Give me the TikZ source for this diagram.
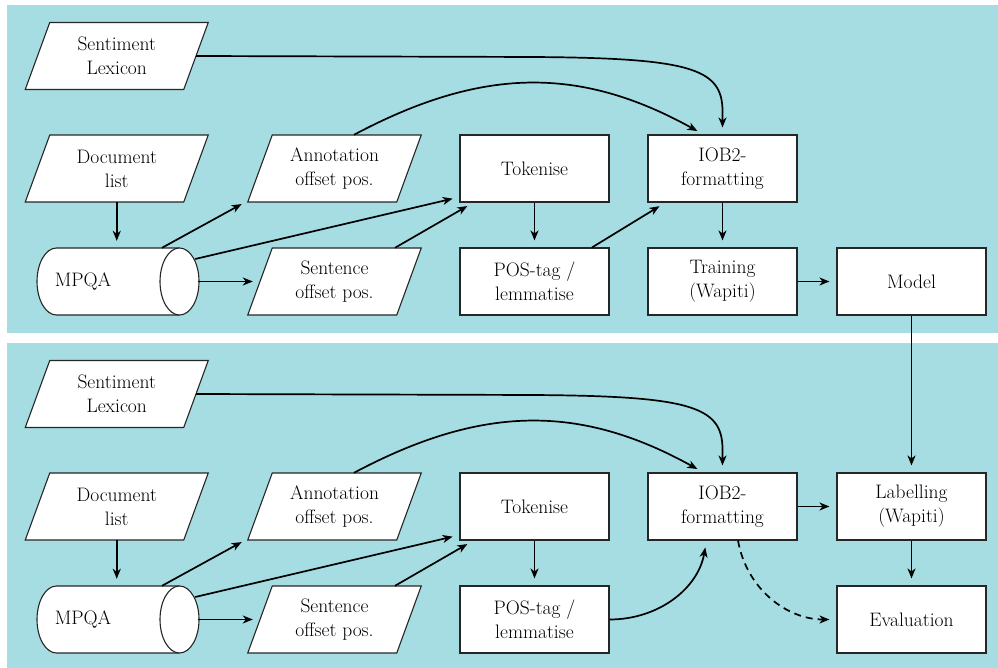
\documentclass[tikz,border=0pt]{standalone}
\usetikzlibrary{arrows.meta,calc}
\definecolor{panelbg}{RGB}{165,221,227}
\begin{document}
\begin{tikzpicture}[x=1pt,y=1pt,
  txt/.style={font=\fontsize{19.5}{24}\selectfont, align=center, inner sep=0pt},
  procbox/.style={txt, draw=black!85, line width=1.1pt, fill=white, minimum width=149pt, minimum height=67pt},
  paranode/.style={txt, minimum height=67pt},
  parashape/.style={draw=black!85, line width=1.1pt, fill=white},
  conn/.style={line width=1.7pt, -{Stealth[length=10pt,width=8pt,inset=3pt]}, shorten >=7pt},
  dashconn/.style={conn, dash pattern=on 7pt off 5pt},
]
\newcommand\parabox[5]{%
  \filldraw[parashape] (#2-#4-12.25,#3-33.5) -- (#2+#4-12.25,#3-33.5) -- (#2+#4+12.25,#3+33.5) -- (#2-#4+12.25,#3+33.5) -- cycle;
  \node[paranode, minimum width=2*#4] (#1) at (#2,#3) {#5};}
\newcommand\halfpanel[2]{%
  \parabox{lex#1}{116.75}{-56-#2}{79.25}{Sentiment\\Lexicon}
  \parabox{doc#1}{116.75}{-168.5-#2}{79.25}{Document\\list}
  \parabox{ann#1}{334.5}{-168.5-#2}{74.5}{Annotation\\offset pos.}
  \parabox{sen#1}{334.5}{-281.5-#2}{74.5}{Sentence\\offset pos.}
  \filldraw[parashape] (179.5,-248-#2) -- (56.5,-248-#2) arc[start angle=90,end angle=270,x radius=19.5,y radius=33.5] -- (179.5,-315-#2);
  \filldraw[parashape] (179.5,-281.5-#2) ellipse[x radius=19.5,y radius=33.5];
  \node[paranode, minimum width=161pt] (mpqa#1) at (117.5,-281.5-#2) {};
  \node[txt] (mpqalabel#1) at (83,-281.5-#2) {MPQA};
  \node[procbox] (tok#1) at (534.5,-168.5-#2) {Tokenise};
  \node[procbox] (pos#1) at (534.5,-281.5-#2) {POS-tag /\\lemmatise};
  \node[procbox] (iob#1) at (722.5,-168.5-#2) {IOB2-\\formatting};
  \draw[conn] (lex#1.east) -- ($(iob#1.north)+(-202.5,77.5)$) .. controls ($(iob#1.north)+(-32.5,77)$) and ($(iob#1.north)+(0,67)$) .. ($(iob#1.north)+(0,23)$) -- (iob#1.north);
  \draw[conn] ($(ann#1.north)+(19.5,0)$) to[out=28,in=151,looseness=1.05] ($(iob#1.north)+(-19,0)$);
  \draw[conn] (doc#1.south) -- (doc#1.south |- mpqa#1.north);
  \draw[conn] ($(mpqa#1.north)+(44.5,0)$) -- ($(ann#1.south west)+(-12,1.5)$);
  \draw[conn] ($(mpqa#1.east)+(-3,22.5)$) -- ($(tok#1.south west)+(0,5.5)$);
  \draw[conn] (mpqa#1.east) -- (sen#1.west);
  \draw[conn] ($(sen#1.north)+(60.5,0)$) -- ($(tok#1.south west)+(14,0)$);
  \draw[conn] (tok#1) -- (pos#1);
}
\useasboundingbox (0,0) rectangle (998,-668);
\fill[panelbg] (7,-5) rectangle (998,-333);
\fill[panelbg] (7,-343) rectangle (998,-668);
\halfpanel{a}{0}
\halfpanel{b}{338}
% top specific
\node[procbox] (train) at (722.5,-281.5) {Training\\(Wapiti)};
\node[procbox] (model) at (911.5,-281.5) {Model};
\draw[conn] ($(posa.north)+(57.5,0)$) -- ($(ioba.south west)+(18,0)$);
\draw[conn] (ioba) -- (train);
\draw[conn] (train) -- (model);
% bottom specific
\node[procbox] (labelb) at (911.5,-506.5) {Labelling\\(Wapiti)};
\node[procbox] (evalb) at (911.5,-619.5) {Evaluation};
\draw[conn] (model) -- (labelb);
\draw[conn] (iobb) -- (labelb);
\draw[conn] (labelb) -- (evalb);
\draw[conn] (posb.east) to[out=0,in=-100] ($(iobb.south)+(-16,0)$);
\draw[dashconn] ($(iobb.south)+(15.5,0)$) to[out=-80,in=180] (evalb.west);
\end{tikzpicture}
\end{document}
